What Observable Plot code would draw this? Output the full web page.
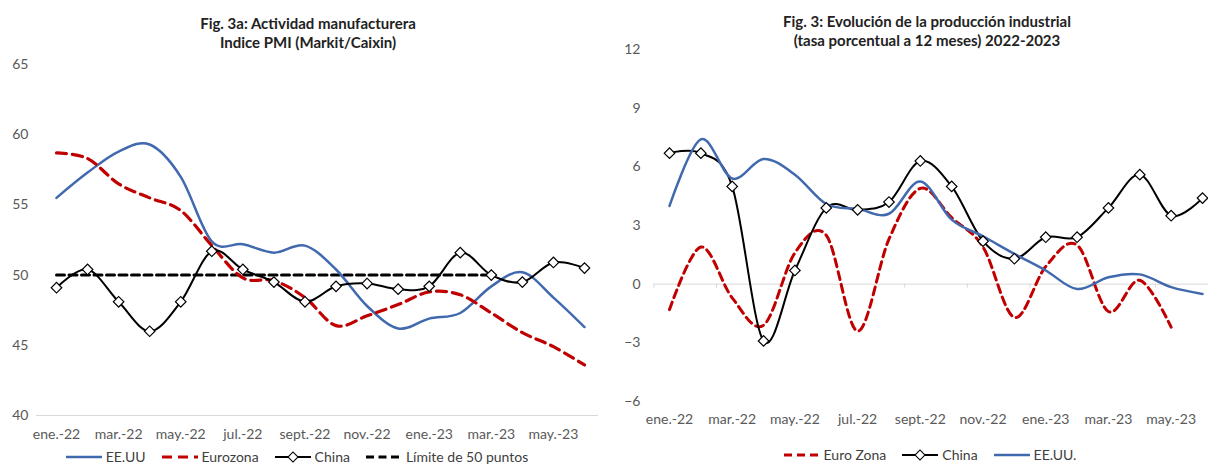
<!DOCTYPE html>
<html><head><meta charset="utf-8">
<script src="https://cdn.jsdelivr.net/npm/d3@7"></script>
<script src="https://cdn.jsdelivr.net/npm/@observablehq/plot@0.6"></script>
<style>
body{margin:0;background:#fff;font-family:Lato,"Noto Sans",sans-serif;}
#root{position:relative;width:1208px;height:464px;overflow:hidden;background:#fff;}
.title{position:absolute;text-align:center;font-weight:bold;font-size:15px;line-height:19px;color:#222;white-space:nowrap;}
.legend{position:absolute;display:flex;justify-content:center;align-items:center;gap:16px;font-size:14px;line-height:14px;color:#404040;white-space:nowrap;height:14px}
.item{display:flex;align-items:center;gap:4px}
.chart{position:absolute;top:0}
</style></head><body>
<div id="root">
  <div class="chart" id="left" style="left:0"></div>
  <div class="chart" id="right" style="left:604px"></div>
  <div class="title" style="left:158px;width:300px;top:14px">Fig. 3a: Actividad manufacturera<br>Indice PMI (Markit/Caixin)</div>
  <div class="title" style="left:777px;width:300px;top:12px">Fig. 3: Evolución de la producción industrial<br>(tasa porcentual a 12 meses) 2022-2023</div>
  <div class="legend" id="legL" style="left:0;width:594px;top:450px"></div>
  <div class="legend" id="legR" style="left:630px;width:600px;top:448px"></div>
</div>
<script>
// ---- data ----
const months = ["ene.-22","feb.-22","mar.-22","abr.-22","may.-22","jun.-22","jul.-22","ago.-22","sept.-22","oct.-22","nov.-22","dic.-22","ene.-23","feb.-23","mar.-23","abr.-23","may.-23","jun.-23"];
const tickMonths = ["ene.-22","mar.-22","may.-22","jul.-22","sept.-22","nov.-22","ene.-23","mar.-23","may.-23"];

// Fig. 3a PMI
const pmiUS = [55.5,57.3,58.8,59.3,57.0,52.4,52.2,51.6,52.1,50.4,47.8,46.2,46.9,47.3,49.2,50.2,48.4,46.3];
const pmiEZ = [58.7,58.3,56.5,55.5,54.6,52.1,49.8,49.6,48.4,46.4,47.1,47.9,48.8,48.6,47.3,45.9,44.9,43.6];
const pmiCN = [49.1,50.4,48.1,46.0,48.1,51.7,50.4,49.5,48.1,49.2,49.4,49.0,49.2,51.6,50.0,49.5,50.9,50.5];
const pmiLimit = [50,50,50,50,50,50,50,50,50,50,50,50,50,50,50];
const pmiTicks = [40,45,50,55,60,65];

// Fig. 3 industrial production (12-month % change)
const ipEZ = [-1.3,1.9,-0.7,-2.1,1.6,2.5,-2.4,2.3,4.9,3.4,1.9,-1.7,0.9,2.0,-1.4,0.2,-2.2];
const ipCN = [6.7,6.7,5.0,-2.9,0.7,3.9,3.8,4.2,6.3,5.0,2.2,1.3,2.4,2.4,3.9,5.6,3.5,4.4];
const ipUS = [4.0,7.4,5.4,6.4,5.6,4.1,3.85,3.6,5.25,3.3,2.45,1.55,0.7,-0.25,0.35,0.5,-0.15,-0.5];
const ipTicks = [-6,-3,0,3,6,9,12];

// ---- helpers ----
const toRows = arr => arr.map((v,i)=>({i, m: months[i], v}));
const tickIdx = tickMonths.map(m => months.indexOf(m));
const BLUE = "#4169ae", RED = "#c00000", BLACK = "#000";
const axisFont = {fontFamily:"Lato, sans-serif", fontSize:"14px", color:"#595959", background:"transparent", overflow:"visible"};

// ---- left chart ----
const L = Plot.plot({
  width:604, height:452, marginTop:64, marginBottom:37, marginLeft:56, marginRight:20,
  style: axisFont,
  x:{domain:[0,17], axis:null},
  y:{domain:[40,65], axis:null},
  marks:[
    Plot.ruleY([40], {x1: () => -0.65, x2: () => 17.45, stroke:"#d9d9d9", strokeWidth:1}),
    Plot.axisY({ticks: pmiTicks, tickSize:0, tickPadding:28, fill:"#595959", label:null}),
    Plot.axisX({ticks: tickIdx, tickFormat: i => months[i], tickSize:0, tickPadding:14, fill:"#595959", label:null}),
    Plot.line(toRows(pmiLimit), {x:"i", y:"v", stroke:BLACK, strokeWidth:3, strokeDasharray:"8,4.5"}),
    Plot.line(toRows(pmiUS), {x:"i", y:"v", stroke:BLUE, strokeWidth:2.5, curve:"cardinal"}),
    Plot.line(toRows(pmiEZ), {x:"i", y:"v", stroke:RED, strokeWidth:3.2, strokeDasharray:"10,6", curve:"cardinal"}),
    Plot.line(toRows(pmiCN), {x:"i", y:"v", stroke:BLACK, strokeWidth:2, curve:"cardinal"}),
    Plot.dot(toRows(pmiCN), {x:"i", y:"v", symbol:"square", rotate:45, r:4.2, fill:"#fff", stroke:BLACK, strokeWidth:1.2})
  ]
});
document.getElementById("left").append(L);

// ---- right chart ----
const bounds = d3.range(-0.5, 16, 2);
const R = Plot.plot({
  width:604, height:436, marginTop:49, marginBottom:35, marginLeft:65, marginRight:6,
  style: axisFont,
  x:{domain:[0,17], axis:null},
  y:{domain:[-6,12], axis:null},
  marks:[
    Plot.ruleY([0], {x1: () => -0.5, x2: () => 17.2, stroke:"#d9d9d9", strokeWidth:1}),
    Plot.ruleX(bounds, {x: d => d, y1: () => 0, y2: () => 0, insetTop:0, insetBottom:-4, stroke:"#d9d9d9"}),
    Plot.axisY({ticks: ipTicks, tickSize:0, tickPadding:29, fill:"#595959", label:null}),
    Plot.axisX({ticks: tickIdx, tickFormat: i => months[i], tickSize:0, tickPadding:13, fill:"#595959", label:null}),
    Plot.line(toRows(ipEZ), {x:"i", y:"v", stroke:RED, strokeWidth:3, strokeDasharray:"8,5", curve:"cardinal"}),
    Plot.line(toRows(ipCN), {x:"i", y:"v", stroke:BLACK, strokeWidth:2, curve:"cardinal"}),
    Plot.line(toRows(ipUS), {x:"i", y:"v", stroke:BLUE, strokeWidth:2.5, curve:"cardinal"}),
    Plot.dot(toRows(ipCN), {x:"i", y:"v", symbol:"square", rotate:45, r:4.2, fill:"#fff", stroke:BLACK, strokeWidth:1.2})
  ]
});
document.getElementById("right").append(R);

// ---- legends ----
function swatch(color, width, dash, marker){
  const ns = "http://www.w3.org/2000/svg";
  const s = document.createElementNS(ns, "svg");
  s.setAttribute("width", 36); s.setAttribute("height", 12);
  const l = document.createElementNS(ns, "line");
  l.setAttribute("x1", 0); l.setAttribute("x2", 36); l.setAttribute("y1", 6); l.setAttribute("y2", 6);
  l.setAttribute("stroke", color); l.setAttribute("stroke-width", width);
  if (dash) l.setAttribute("stroke-dasharray", dash);
  s.append(l);
  if (marker){
    const p = document.createElementNS(ns, "rect");
    p.setAttribute("x", 14.5); p.setAttribute("y", 2.5); p.setAttribute("width", 7); p.setAttribute("height", 7);
    p.setAttribute("transform", "rotate(45 18 6)");
    p.setAttribute("fill", "#fff"); p.setAttribute("stroke", "#000"); p.setAttribute("stroke-width", 1.1);
    s.append(p);
  }
  return s;
}
function legend(el, items){
  const host = document.getElementById(el);
  for (const it of items){
    const d = document.createElement("div"); d.className = "item";
    d.append(swatch(it.color, it.w, it.dash, it.marker));
    const t = document.createElement("span"); t.textContent = it.label; d.append(t);
    host.append(d);
  }
}
legend("legL", [
  {label:"EE.UU", color:BLUE, w:2.5},
  {label:"Eurozona", color:RED, w:3.2, dash:"10,6"},
  {label:"China", color:BLACK, w:2, marker:true},
  {label:"Límite de 50 puntos", color:BLACK, w:3, dash:"8,4.5"}
]);
legend("legR", [
  {label:"Euro Zona", color:RED, w:3, dash:"8,5"},
  {label:"China", color:BLACK, w:2, marker:true},
  {label:"EE.UU.", color:BLUE, w:2.5}
]);
</script>
</body></html>
